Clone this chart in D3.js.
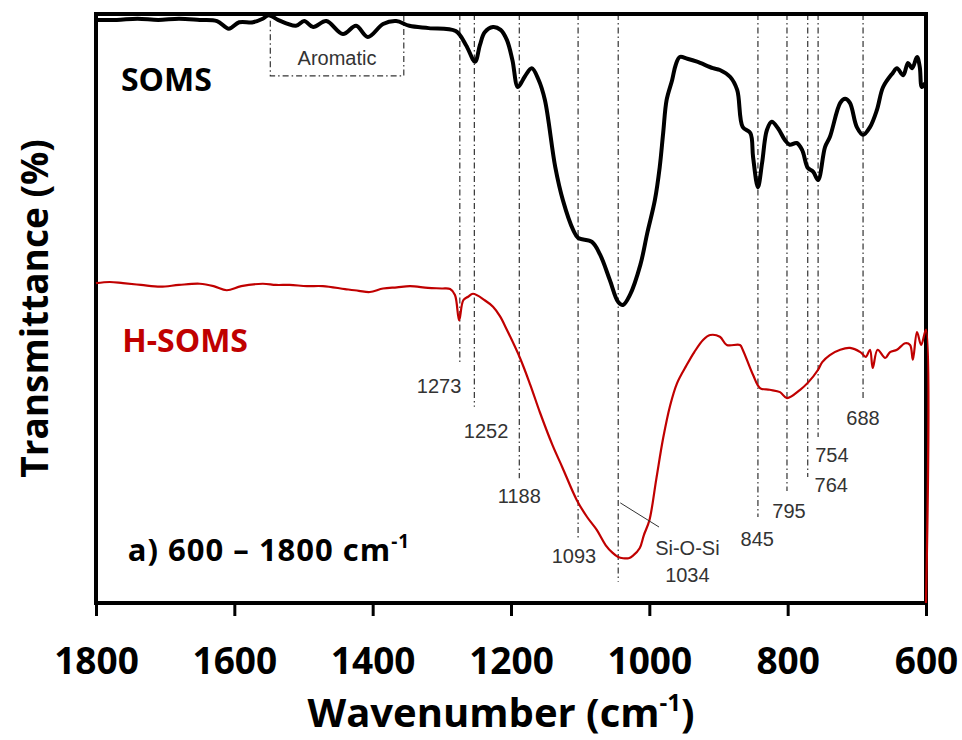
<!DOCTYPE html>
<html>
<head>
<meta charset="utf-8">
<script src="https://cdn.jsdelivr.net/npm/d3@7"></script>
<style>
body { margin: 0; background: #fff; }
text { font-family: 'Open Sans', sans-serif; }
.note { font-family: 'Liberation Sans', Arial, sans-serif; font-size: 20px; fill: #333; }
</style>
</head>
<body>
<div id="chart"></div>
<script>
// FTIR spectra, wavenumber (cm-1) vs transmittance (arbitrary offset units)
var somsWn = [1800, 1770, 1740, 1710, 1680, 1650, 1625, 1608, 1593, 1573, 1559, 1550, 1537, 1511, 1499, 1486,
	1467, 1443, 1424, 1407, 1385, 1366, 1347, 1319, 1280, 1265, 1252, 1245, 1238, 1226, 1215, 1206, 1198,
	1190, 1180, 1170, 1160, 1151, 1136, 1125, 1110, 1103, 1083, 1071, 1057, 1045, 1038, 1028, 1013, 1003,
	992, 985, 980, 975, 967, 962, 956, 945, 931, 908, 898, 883, 873, 865, 854, 850, 843, 837, 830, 823,
	814, 804, 797, 787, 779, 771, 763, 756, 746, 739, 724, 717, 710, 700, 691, 681, 671, 662, 648, 642,
	633, 626, 620, 613, 609, 606, 601];
var somsT = [99.0, 99.0, 99.2, 99.0, 99.2, 99.0, 98.8, 97.5, 98.6, 98.6, 99.2, 99.8, 99.0, 98.0, 98.8, 97.8,
	98.8, 96.6, 98.0, 96.1, 98.3, 98.8, 98.0, 97.6, 97.1, 94.7, 91.9, 94.7, 96.9, 97.8, 97.3, 95.6, 92.2,
	87.6, 89.4, 90.8, 88.8, 85.4, 74.0, 68.4, 63.3, 62.0, 61.3, 59.1, 54.8, 51.1, 50.6, 52.3, 57.4, 62.8,
	68.4, 74.0, 79.8, 85.4, 88.8, 91.3, 92.7, 92.4, 91.9, 90.8, 90.5, 89.3, 87.1, 80.8, 79.8, 75.7, 70.6,
	74.7, 80.3, 81.7, 80.6, 78.6, 77.8, 78.1, 76.9, 73.9, 73.2, 71.8, 77.4, 79.1, 84.9, 85.6, 84.9, 80.8,
	79.5, 80.8, 83.7, 87.6, 90.0, 90.8, 89.6, 91.7, 90.8, 92.7, 91.0, 87.6, 88.3];

var hsomsWn = [1800, 1780, 1761, 1735, 1707, 1680, 1650, 1630, 1611, 1590, 1559, 1540, 1520, 1495, 1472,
	1440, 1420, 1404, 1385, 1365, 1346, 1320, 1300, 1288, 1281, 1275, 1269, 1262, 1255, 1238, 1226, 1216,
	1206, 1187, 1172, 1158, 1140, 1126, 1105, 1090, 1076, 1063, 1053, 1045, 1038, 1030, 1024, 1014, 1008,
	1000, 990, 980, 970, 960, 946, 935, 922, 912, 898, 888, 869, 865, 850, 840, 826, 811, 801, 782, 770, 756,
	750, 739, 724, 710, 695, 687, 681, 677, 670, 659, 652, 642, 630, 623, 619, 613, 607, 600, 600];
var hsomsT = [54.3, 54.5, 54.3, 54.0, 53.7, 54.0, 54.2, 53.8, 53.1, 53.8, 54.2, 54.0, 54.0, 53.8, 53.8,
	53.3, 53.0, 52.8, 53.4, 53.6, 53.8, 53.5, 53.4, 53.3, 52.3, 48.0, 51.4, 52.0, 52.5, 51.4, 50.3, 48.7,
	46.4, 41.6, 37.0, 32.3, 26.8, 23.1, 17.5, 14.6, 12.4, 9.8, 8.5, 7.8, 7.6, 7.6, 8.0, 9.3, 11.5,
	14.0, 21.0, 28.0, 33.5, 37.3, 40.4, 42.6, 44.7, 45.5, 45.2, 43.8, 43.8, 43.0, 38.7, 36.5, 36.2, 35.8, 34.8,
	36.2, 37.5, 39.6, 40.9, 42.1, 43.0, 43.3, 42.6, 41.8, 43.0, 39.9, 43.0, 41.6, 42.6, 43.0, 44.1, 43.8,
	41.3, 46.0, 43.8, 46.4, 0];

var xTicks = [1800, 1600, 1400, 1200, 1000, 800, 600];

// band assignments: label, where the guide line is drawn, where it stops
var peakLabels = ['1273', '1252', '1188', '1093', '1034', '845', '795', '764', '754', '688'];
var peakPos = [1274, 1253, 1188, 1103, 1045, 843, 801, 771, 756, 691];
var peakEnd = [40.4, 33.3, 21.2, 11.0, 3.6, 14.6, 19.0, 21.4, 28.2, 34.5];

// label placement (wavenumber of text centre, baseline level)
var labelWn = [1304, 1236, 1188, 1109, 945, 844, 798, 737, 736, 691];
var labelT = [35.7, 28.0, 17.0, 6.8, 3.6, 9.7, 14.4, 18.8, 23.9, 30.2];

var width = 962,
	height = 740;

var svg = d3.select('#chart')
	.append('svg')
	.attr('width', width)
	.attr('height', height);

var x = d3.scaleLinear().domain([1800, 600]).range([96, 926]);
var y = d3.scaleLinear().domain([0, 100]).range([603, 14]);

// guide lines behind the spectra
svg.selectAll('.guide')
	.data(peakPos)
	.enter()
	.append('line')
	.attr('class', 'guide')
	.attr('x1', function(d) { return x(d); })
	.attr('x2', function(d) { return x(d); })
	.attr('y1', y(100))
	.attr('y2', function(d, i) { return y(peakEnd[i]); })
	.attr('stroke', '#333')
	.attr('stroke-width', 1.2)
	.attr('stroke-dasharray', '6,3,1.5,3');

// aromatic region box
svg.append('rect')
	.attr('x', x(1548))
	.attr('y', y(100))
	.attr('width', x(1355) - x(1548))
	.attr('height', y(89.5) - y(100))
	.attr('fill', 'none')
	.attr('stroke', '#333')
	.attr('stroke-width', 1.2)
	.attr('stroke-dasharray', '6,3,1.5,3');

svg.append('text')
	.attr('class', 'note')
	.attr('x', (x(1548) + x(1355)) / 2)
	.attr('y', y(91.3))
	.attr('text-anchor', 'middle')
	.text('Aromatic');

// frame
svg.append('rect')
	.attr('x', x(1800))
	.attr('y', y(100))
	.attr('width', x(600) - x(1800))
	.attr('height', y(0) - y(100))
	.attr('fill', 'none')
	.attr('stroke', '#000')
	.attr('stroke-width', 4);

var xAxis = d3.axisBottom(x)
	.tickValues(xTicks)
	.tickSize(13)
	.tickPadding(32)
	.tickFormat(d3.format('d'));

var gx = svg.append('g')
	.attr('transform', 'translate(0,' + y(0) + ')')
	.call(xAxis);

gx.select('.domain').remove();
gx.selectAll('.tick line').attr('stroke', '#000').attr('stroke-width', 3);
gx.selectAll('.tick text')
	.attr('fill', '#000')
	.style('font-family', "'Open Sans', sans-serif")
	.style('font-size', '37px')
	.style('font-weight', 'bold');

var line = d3.line()
	.x(function(d) { return x(d[0]); })
	.y(function(d) { return y(d[1]); })
	.curve(d3.curveCatmullRom.alpha(0.5));

svg.append('path')
	.datum(d3.zip(somsWn, somsT))
	.attr('d', line)
	.attr('fill', 'none')
	.attr('stroke', '#000')
	.attr('stroke-width', 4)
	.attr('stroke-linejoin', 'round');

svg.append('path')
	.datum(d3.zip(hsomsWn, hsomsT))
	.attr('d', line)
	.attr('fill', 'none')
	.attr('stroke', '#c00000')
	.attr('stroke-width', 2.2)
	.attr('stroke-linejoin', 'round');

// band labels (1034 is written under its Si-O-Si callout)
svg.selectAll('.peak-label')
	.data(peakLabels)
	.enter()
	.append('text')
	.attr('class', 'note peak-label')
	.attr('text-anchor', 'middle')
	.attr('x', function(d, i) { return x(labelWn[i]); })
	.attr('y', function(d, i) { return y(labelT[i]); })
	.text(function(d) { return d; });

svg.append('line')
	.attr('x1', x(1042))
	.attr('y1', y(17.0))
	.attr('x2', x(986))
	.attr('y2', y(12.9))
	.attr('stroke', '#333')
	.attr('stroke-width', 1);

svg.append('text')
	.attr('class', 'note')
	.attr('text-anchor', 'middle')
	.attr('x', x(945))
	.attr('y', y(8.1))
	.text('Si-O-Si');

// series names
svg.append('text')
	.attr('x', x(1764))
	.attr('y', y(86.9))
	.style('font-size', '32px')
	.style('font-weight', 'bold')
	.attr('fill', '#000')
	.text('SOMS');

svg.append('text')
	.attr('x', x(1762))
	.attr('y', y(42.6))
	.style('font-size', '32px')
	.style('font-weight', 'bold')
	.attr('fill', '#c00000')
	.text('H-SOMS');

var range = svg.append('text')
	.attr('x', x(1754))
	.attr('y', y(7.1))
	.style('font-size', '31px')
	.style('font-weight', 'bold')
	.style('letter-spacing', '1px')
	.attr('fill', '#000');
range.append('tspan').text('a) 600 \u2013 1800 cm');
range.append('tspan').attr('dy', -13).style('font-size', '19px').text('-1');

// axis titles
var xt = svg.append('text')
	.attr('x', 501)
	.attr('y', 727)
	.attr('text-anchor', 'middle')
	.style('font-size', '40px')
	.style('font-weight', 'bold')
	.attr('fill', '#000');
xt.append('tspan').text('Wavenumber (cm');
xt.append('tspan').attr('dy', -16).style('font-size', '24px').text('-1');
xt.append('tspan').attr('dy', 16).text(')');

svg.append('text')
	.attr('transform', 'translate(48,' + ((y(0) + y(100)) / 2) + ') rotate(-90)')
	.attr('text-anchor', 'middle')
	.style('font-size', '37px')
	.style('font-weight', 'bold')
	.attr('fill', '#000')
	.text('Transmittance (%)');
</script>
</body>
</html>
